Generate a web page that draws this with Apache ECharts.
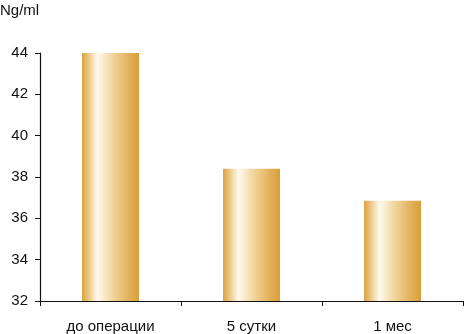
<!DOCTYPE html>
<html>
<head>
<meta charset="utf-8">
<script src="https://cdn.jsdelivr.net/npm/echarts@6/dist/echarts.min.js"></script>
<style>html,body{margin:0;padding:0;background:#fff}#c{width:464px;height:334px}</style>
</head>
<body>
<div id="c"></div>
<script>
var categories = ['до операции', '5 сутки', '1 мес'];
var values = [44.05, 38.4, 36.85];
var yTicks = [32, 34, 36, 38, 40, 42, 44];
var unitLabel = 'Ng/ml';

var FONT = '"Liberation Sans Narrow", "Arial Narrow", "Liberation Sans", sans-serif';
var chart = echarts.init(document.getElementById('c'));
var grad = new echarts.graphic.LinearGradient(0, 0, 1, 0, [
  {offset: 0, color: '#dba244'},
  {offset: 0.1, color: '#eac27a'},
  {offset: 0.27, color: '#fffaee'},
  {offset: 0.55, color: '#f0d498'},
  {offset: 0.85, color: '#e1ad55'},
  {offset: 1, color: '#d99e38'}
]);
chart.setOption({
  animation: false,
  grid: {left: 40, right: 1, top: 53, bottom: 33},
  graphic: [{type: 'text', left: 0, top: 3, style: {text: unitLabel, font: '15px ' + FONT, fill: '#111'}}],
  xAxis: {
    type: 'category', data: categories,
    axisLine: {lineStyle: {color: '#111', width: 1.2}},
    axisTick: {show: true, length: 5, lineStyle: {color: '#111'}},
    axisLabel: {color: '#111', fontFamily: FONT, fontSize: 15, margin: 18}
  },
  yAxis: {
    type: 'value', min: yTicks[0], max: yTicks[yTicks.length - 1], interval: 2,
    splitLine: {show: false},
    axisLine: {show: true, lineStyle: {color: '#111', width: 1.2}},
    axisTick: {show: true, length: 5, lineStyle: {color: '#111'}},
    axisLabel: {color: '#111', fontFamily: FONT, fontSize: 15, margin: 12}
  },
  series: [{
    type: 'bar', data: values, barWidth: 57,
    itemStyle: {color: grad}
  }]
});
</script>
</body>
</html>
